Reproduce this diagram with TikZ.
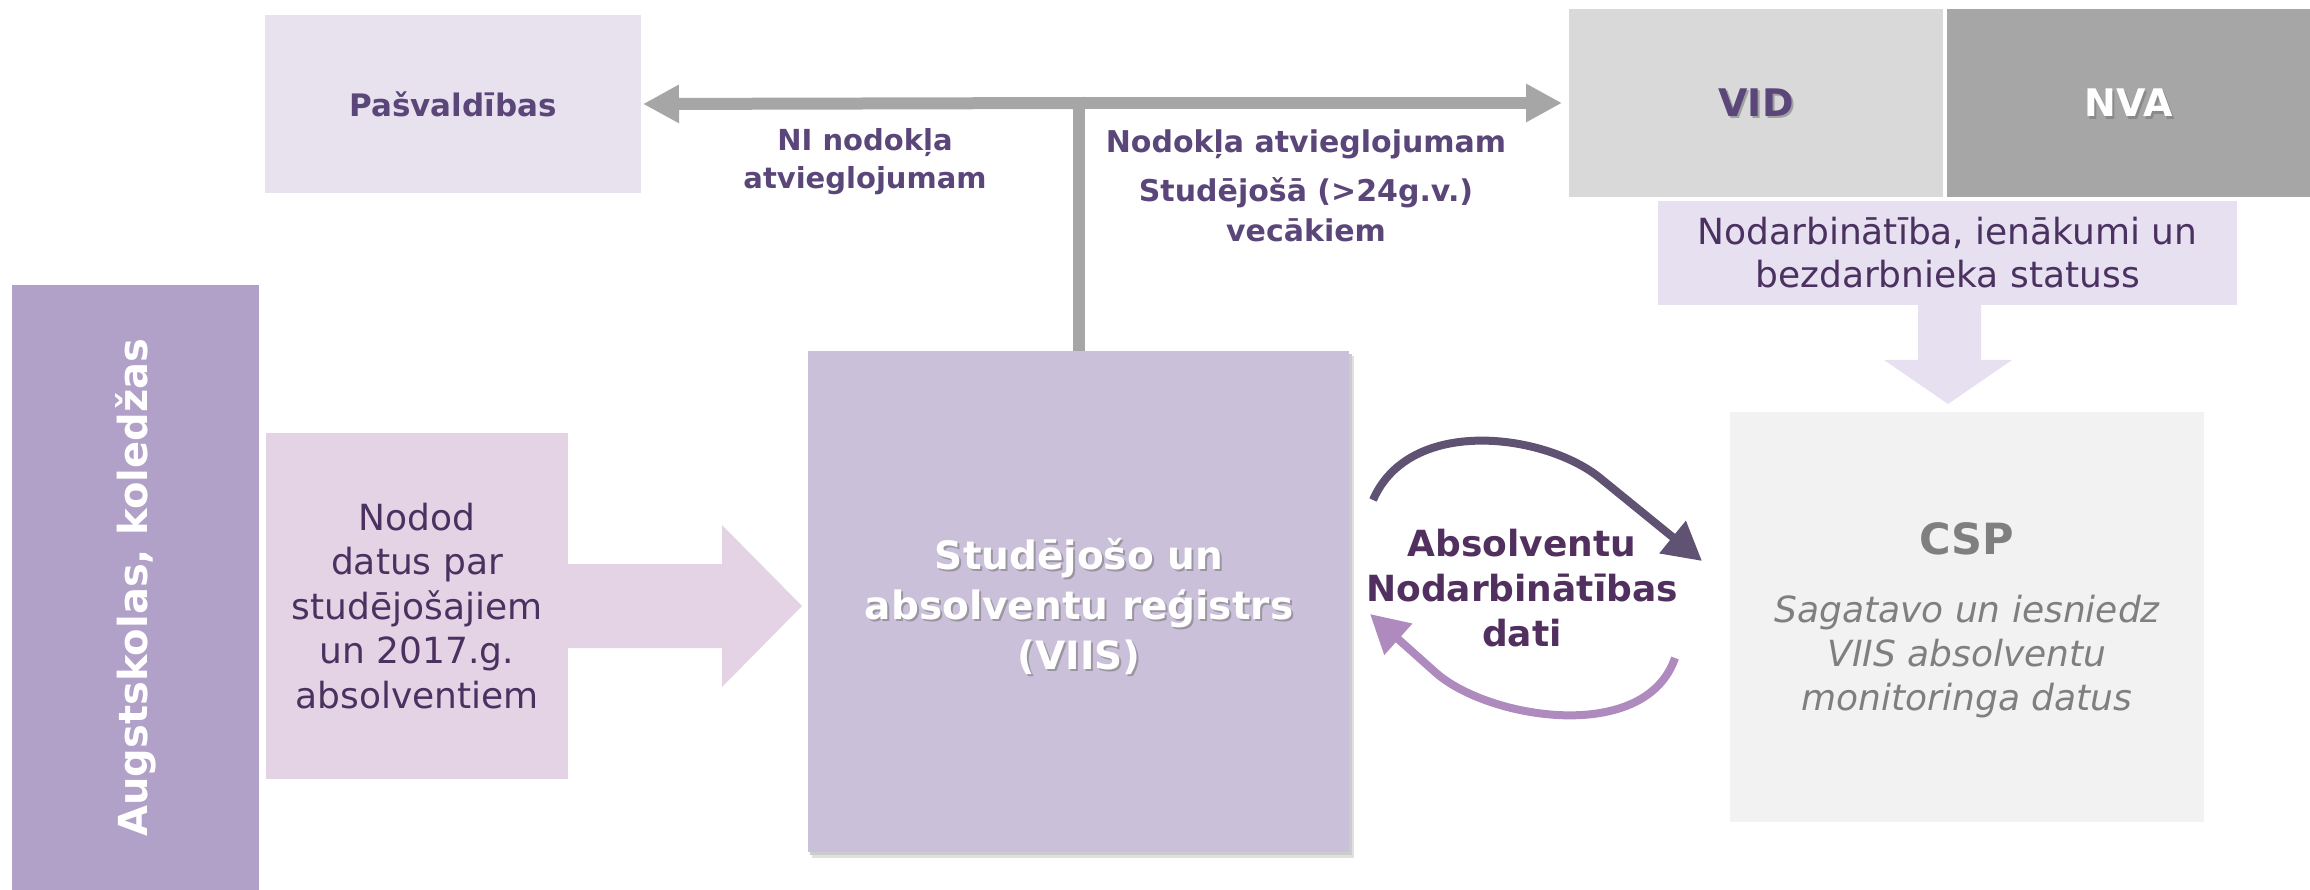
\documentclass[tikz,border=0pt]{standalone}
\usepackage{fontspec}
\setmainfont{DejaVu Sans}
\usetikzlibrary{arrows.meta}
\definecolor{pasvfill}{HTML}{E8E2EF}
\definecolor{txtpurple}{HTML}{5B467A}
\definecolor{darkpurple}{HTML}{4B3160}
\definecolor{vidfill}{HTML}{D9D9D9}
\definecolor{nvafill}{HTML}{A6A6A6}
\definecolor{nodarfill}{HTML}{E6E0F0}
\definecolor{cspfill}{HTML}{F2F2F2}
\definecolor{csptext}{HTML}{7F7F7F}
\definecolor{augfill}{HTML}{B1A0C7}
\definecolor{nododfill}{HTML}{E4D2E5}
\definecolor{viisfill}{HTML}{CBC0DA}
\definecolor{grayarrow}{HTML}{A6A6A6}
\definecolor{arcdark}{HTML}{5F5272}
\definecolor{arclight}{HTML}{AE8ABE}
\definecolor{centertext}{HTML}{51305F}
\begin{document}
\begin{tikzpicture}[x=1pt,y=-1pt,
  box/.style={rectangle, inner sep=0pt, outer sep=0pt, draw=none, align=center},
  grayline/.style={draw=grayarrow, line width=12pt},
  grayarr/.style={draw=grayarrow, line width=12pt, -{Triangle[length=36pt,width=36pt]}},
  arcstyle/.style={line width=8pt, -{Triangle[length=38pt,width=40pt]}},
  shadowtxt/.style={align=center, text=black!55, opacity=0.55},
]
\useasboundingbox (0,0) rectangle (2310,890);

% boxes
\node[box, fill=pasvfill, minimum width=376pt, minimum height=178pt, text=txtpurple,
      font=\fontsize{31}{38}\selectfont\bfseries] (pasv) at (453,104) {Pašvaldības};
\node[box, fill=vidfill, minimum width=374pt, minimum height=188pt] (vid) at (1756,103) {};
\node[box, fill=nvafill, minimum width=363pt, minimum height=188pt] (nva) at (2128.5,103) {};
\node[box, fill=nodarfill, minimum width=579pt, minimum height=104pt, text=darkpurple,
      font=\fontsize{36}{43}\selectfont] (nodar) at (1947.5,253) {Nodarbinātība, ienākumi un\\bezdarbnieka statuss};
\node[box, fill=cspfill, minimum width=474pt, minimum height=410pt] (csp) at (1967,617) {};
\node[box, fill=augfill, minimum width=247pt, minimum height=605pt] (aug) at (135.5,587.5) {};
\node[box, fill=nododfill, minimum width=302pt, minimum height=346pt, text=darkpurple,
      font=\fontsize{36}{44.5}\selectfont] (nodod) at (417,606)
      {Nodod\\datus par\\studējošajiem\\un 2017.g.\\absolventiem};
% VIIS shadow + box
\fill[black!12] (812,356) rectangle (1354,858);
\fill[black!20] (810,354) rectangle (1352,855);
\node[box, fill=viisfill, minimum width=541pt, minimum height=501pt] (viis) at (1078.5,601.5) {};

% text with shadows
\node[shadowtxt, font=\fontsize{38}{46}\selectfont\bfseries] at (1758,105) {VID};
\node[align=center, text=txtpurple, font=\fontsize{38}{46}\selectfont\bfseries] (vidt) at (vid.center) {VID};
\node[shadowtxt, font=\fontsize{38}{46}\selectfont\bfseries] at (2130.5,105.5) {NVA};
\node[align=center, text=white, font=\fontsize{38}{46}\selectfont\bfseries] (nvat) at (nva.center) {NVA};
\node[shadowtxt, font=\fontsize{39}{50}\selectfont\bfseries] at (1081,608)
      {Studējošo un\\absolventu reģistrs\\(VIIS)};
\node[align=center, text=white, font=\fontsize{39}{50}\selectfont\bfseries] (viist) at (1079,606)
      {Studējošo un\\absolventu reģistrs\\(VIIS)};
\node[rotate=90, text=white, font=\fontsize{40}{48}\selectfont\bfseries] (augt) at (aug.center) {Augstskolas, koledžas};

% CSP text
\node[text=csptext, font=\fontsize{43}{50}\selectfont\bfseries] (cspt) at (1967,539) {CSP};
\node[align=center, text=csptext, font=\fontsize{36}{44}\selectfont\itshape] (cspsub) at (1967,657)
      {Sagatavo un iesniedz\\VIIS absolventu\\monitoringa datus};

% gray T-connector
\coordinate (junc) at (1079,103);
\draw[grayline] (viis.north -| junc) -- ([yshift=-6pt]junc);
\draw[grayarr] ([xshift=6pt]junc) -- ([xshift=2pt]pasv.east);
\draw[grayarr] ([xshift=-6pt]junc) -- ([xshift=-7pt]vid.west |- junc);

\node[align=center, text=txtpurple, font=\fontsize{29}{38}\selectfont\bfseries] (nilbl) at (865,162)
      {NI nodokļa\\atvieglojumam};
\node[align=center, text=txtpurple, font=\fontsize{30}{40}\selectfont\bfseries] (nodlbl) at (1306,186)
      {Nodokļa atvieglojumam\\[9pt]Studējošā (>24g.v.)\\vecākiem};

% big arrow Nodod -> VIIS
\fill[nododfill] (nodod.east |- 0,564) -- (722,564) -- (722,525) -- (802,606) -- (722,687) -- (722,648) -- (nodod.east |- 0,648) -- cycle;

% down arrow Nodar -> CSP
\fill[nodarfill] (1918,305) -- (1981,305) -- (1981,360) -- (2012,360) -- (1948,404) -- (1884,360) -- (1918,360) -- cycle;

% circular arrows
\coordinate (a1s) at (1373,500);
\coordinate (a1e) at (1702,561);
\coordinate (a2s) at (1675,658);
\coordinate (a2e) at (1370,614);
\draw[arcstyle, draw=arcdark] (a1s) .. controls (1410,415) and (1546,434) .. (1600,478) -- (a1e);
\draw[arcstyle, draw=arclight] (a2s) .. controls (1645,745) and (1487,719) .. (1435,672) -- (a2e);
\node[align=center, text=centertext, font=\fontsize{36}{45}\selectfont\bfseries] (ctr) at (1522,588)
      {Absolventu\\Nodarbinātības\\dati};
\end{tikzpicture}
\end{document}
